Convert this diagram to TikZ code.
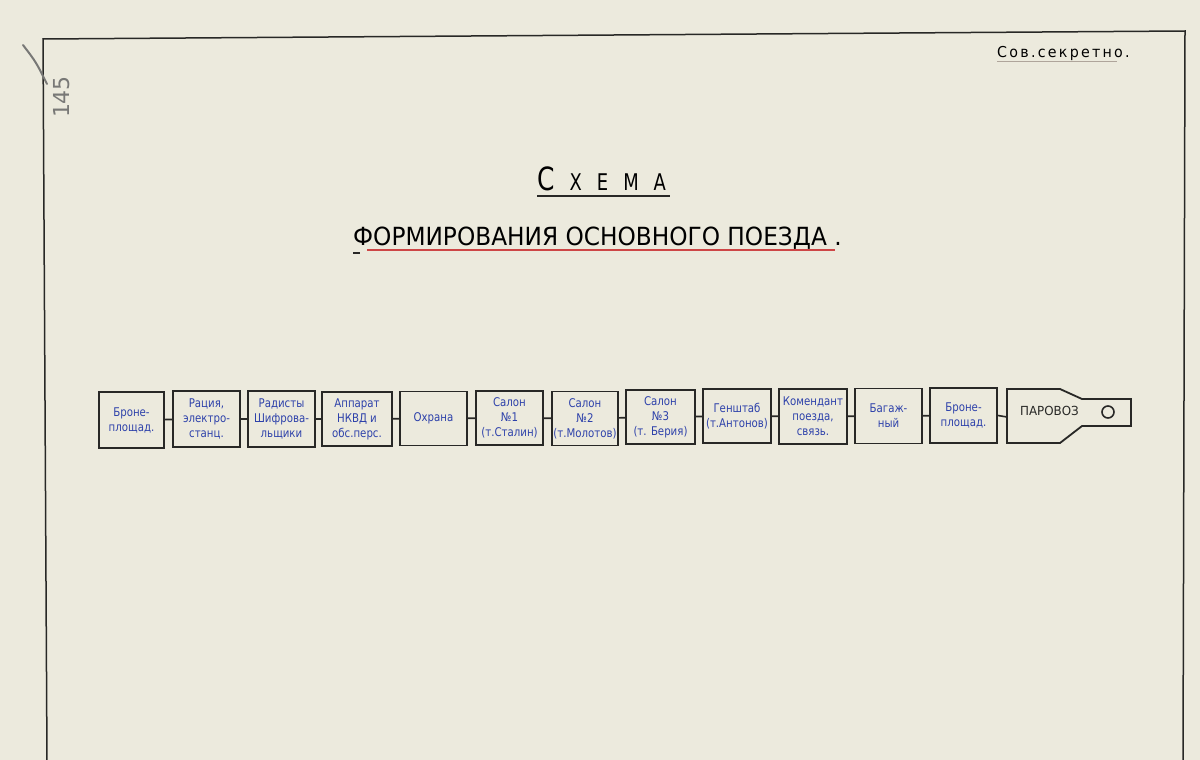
\documentclass[tikz,border=0pt]{standalone}
\usepackage{fontspec}
\setmainfont{DejaVu Sans}
\newfontfamily\inkfont{DejaVu Sans}[FakeStretch=0.85]
\newfontfamily\titlefont{DejaVu Sans}[FakeStretch=0.78]
\newfontfamily\titlefontb{DejaVu Sans}[FakeStretch=0.93]
\newfontfamily\stampfont{DejaVu Sans}[FakeStretch=0.95, LetterSpace=15]
\newfontfamily\locofont{DejaVu Sans}[FakeStretch=0.95]
\definecolor{paper}{RGB}{236,234,221}
\definecolor{ink}{RGB}{45,65,170}
\definecolor{framec}{RGB}{40,40,38}
\definecolor{redline}{RGB}{205,70,70}
\definecolor{pencil}{RGB}{120,120,118}
\definecolor{faint}{RGB}{175,165,155}
\begin{document}
\begin{tikzpicture}[x=1pt,y=-1pt,
  wagon/.style={draw=framec, line width=1.8pt, fill=paper, align=center,
    font=\inkfont\fontsize{12}{15}\selectfont, text=ink, inner sep=0pt},
  link/.style={draw=framec, line width=1.6pt}]
\useasboundingbox (0,0) rectangle (1200,760);
\fill[paper] (0,0) rectangle (1200,760);
% sheet frame
\draw[framec, line width=1.5pt] (47,762) -- (43,39) -- (1185,31) -- (1183,762);
% pencil marks
\draw[pencil, line width=2pt, line cap=round] (23,45) .. controls (36,62) .. (47,84);
\node[text=pencil, rotate=90, font=\fontsize{22}{22}\selectfont] (pg) at (62,97) {145};
% stamp
\node[anchor=base west, inner sep=0pt, font=\stampfont\fontsize{15}{15}\selectfont] (stamp) at (997,58) {Сов.секретно.};
\draw[faint, line width=1pt] (997,62) -- (1117,62);
% titles
\node[anchor=base west, inner sep=0pt] (t1) at (537,190)
  {{\titlefont\fontsize{32}{32}\selectfont С}\hspace{15pt}{\titlefont\fontsize{23}{23}\selectfont Х\hspace{15pt}Е\hspace{15pt}М\hspace{15pt}А}};
\draw[framec, line width=1.2pt] (537,196) -- (670,196);
\node[anchor=base west, inner sep=0pt, font=\titlefontb\fontsize{25}{25}\selectfont] (t2) at (353,245)
  {ФОРМИРОВАНИЯ ОСНОВНОГО ПОЕЗДА .};
\draw[redline, line width=1.2pt] (367,250) -- (835,250);
\draw[framec, line width=1.2pt] (353,253) -- (360,253);
% wagons
\node[wagon, minimum width=65, minimum height=56] (w1) at (131.5,420) {Броне-\\площад.};
\node[wagon, minimum width=67, minimum height=56] (w2) at (206.5,419) {Рация,\\электро-\\станц.};
\node[wagon, minimum width=67, minimum height=56] (w3) at (281.5,419) {Радисты\\Шифрова-\\льщики};
\node[wagon, minimum width=70, minimum height=54] (w4) at (357,419) {Аппарат\\НКВД и\\обс.перс.};
\node[wagon, minimum width=67, minimum height=54] (w5) at (433.5,418.5) {Охрана};
\node[wagon, minimum width=67, minimum height=54] (w6) at (509.5,418) {Салон\\№1\\(т.Сталин)};
\node[wagon, minimum width=66, minimum height=54] (w7) at (585,418.5) {Салон\\№2\\(т.Молотов)};
\node[wagon, minimum width=69, minimum height=54] (w8) at (660.5,417) {Салон\\№3\\(т. Берия)};
\node[wagon, minimum width=68, minimum height=54] (w9) at (737,416) {Генштаб\\(т.Антонов)};
\node[wagon, minimum width=68, minimum height=55] (w10) at (813,416.5) {Комендант\\поезда,\\связь.};
\node[wagon, minimum width=67, minimum height=55] (w11) at (888.5,416) {Багаж-\\ный};
\node[wagon, minimum width=67, minimum height=55] (w12) at (963.5,415.5) {Броне-\\площад.};
% locomotive
\draw[framec, line width=1.8pt, fill=paper, line join=miter]
  (1007,389) -- (1060,389) -- (1082,399) -- (1131,399) -- (1131,426)
  -- (1082,426) -- (1060,443) -- (1007,443) -- cycle;
\coordinate (loco) at (1007,417);
\node[font=\locofont\fontsize{12.5}{12.5}\selectfont, text=framec, inner sep=0pt] (lt) at (1049.5,411) {ПАРОВОЗ};
\draw[framec, line width=1.6pt] (1108,412) circle (6);
% couplings
\foreach \a/\b in {w1/w2,w2/w3,w3/w4,w4/w5,w5/w6,w6/w7,w7/w8,w8/w9,w9/w10,w10/w11,w11/w12}
  \draw[link] (\a) -- (\b);
\draw[link] (w12.east) -- (loco);
\end{tikzpicture}
\end{document}
